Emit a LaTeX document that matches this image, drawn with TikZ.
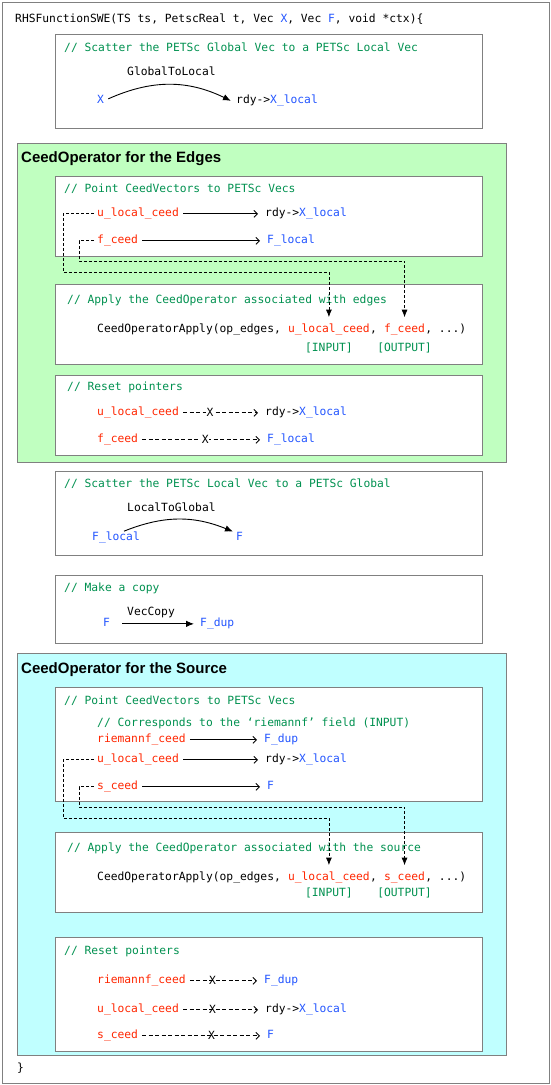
\documentclass[tikz,border=0pt]{standalone}
\usepackage{fontspec}
\usepackage{xcolor}
\usetikzlibrary{arrows.meta, positioning, calc}
\newfontfamily\codefont{DejaVu Sans Mono}
\newfontfamily\headfont{Liberation Sans}
\definecolor{codered}{RGB}{255,38,0}
\definecolor{codeblue}{RGB}{35,85,255}
\definecolor{codegreen}{RGB}{0,145,80}
\definecolor{framegray}{RGB}{128,128,128}
\definecolor{edgefill}{RGB}{192,255,192}
\definecolor{srcfill}{RGB}{192,255,255}
\tikzset{
  code/.style={anchor=base west,inner sep=0pt,font=\codefont\fontsize{11.3}{13}\selectfont},
  cmt/.style={code,text=codegreen},
  var/.style={code,text=codered},
  vec/.style={code,text=codeblue},
  panel/.style={draw=framegray,fill=white,line width=0.9pt},
  edgegroup/.style={draw=framegray,fill=edgefill,line width=0.9pt},
  srcgroup/.style={draw=framegray,fill=srcfill,line width=0.9pt},
  grouptitle/.style={anchor=base west,inner sep=0pt,font=\headfont\bfseries\fontsize{15}{18}\selectfont},
  ptr/.style={-{Straight Barb[length=3.5pt,width=7pt]},line width=0.9pt,shorten <=4pt,shorten >=7pt},
  unptr/.style={ptr,dash pattern=on 4pt off 2.5pt},
  scatter/.style={-{Latex[length=8pt,width=6.5pt]},line width=0.9pt},
  argline/.style={-{Latex[length=7.5pt,width=6pt]},line width=0.8pt,dash pattern=on 3pt off 2pt,
    shorten <=3pt,shorten >=6pt},
  cutx/.style={code,anchor=center,pos=#1,fill=white,inner xsep=0.6pt,inner ysep=1pt},
  crossx/.style={cutx=#1,fill=none}
}

\begin{document}
\begin{tikzpicture}[x=1pt,y=-1pt]
  \useasboundingbox (0,0) rectangle (551,1085);
  \draw[framegray,line width=0.9pt,fill=white] (2,2) rectangle (549,1083);
  \node[code] (sig) at (15,22)
    {RHSFunctionSWE(TS ts, PetscReal t, Vec \textcolor{codeblue}{X}, Vec \textcolor{codeblue}{F}, void *ctx)\{};

  % global to local
  \draw[panel] (55,34) rectangle (482,128);
  \node[cmt] (c1) at (64,51) {// Scatter the PETSc Global Vec to a PETSc Local Vec};
  \node[code] (g2l) at (127,75) {GlobalToLocal};
  \node[vec] (gx) at (97,103) {X};
  \node[code] (gxl) at (236,103) {rdy->\textcolor{codeblue}{X\_local}};
  \draw[scatter] ([xshift=4pt]gx.east) to[bend left=25] ([xshift=-5pt]gxl.mid west);

  % edges
  \draw[edgegroup] (17,143) rectangle (506,462);
  \node[grouptitle] (edgetitle) at (21,162) {CeedOperator for the Edges};

  \draw[panel] (55,176) rectangle (482,256);
  \node[cmt] (c2) at (64,192) {// Point CeedVectors to PETSc Vecs};
  \node[var] (eu) at (97,216) {u\_local\_ceed};
  \node[code] (exl) at (265,216) {rdy->\textcolor{codeblue}{X\_local}};
  \node[var] (ef) at (97,243) {f\_ceed};
  \node[vec] (efl) at (267,243) {F\_local};
  \draw[ptr] (eu.mid east) -- (exl.mid west);
  \draw[ptr] (ef.mid east) -- (efl.mid west);

  \draw[panel] (55,284) rectangle (482,364);
  \node[cmt] (c3) at (67,303) {// Apply the CeedOperator associated with edges};
  \node[code] (eapp) at (97,332) {CeedOperatorApply(op\_edges,\ \null};
  \node[var] (ein) at (eapp.base east) {u\_local\_ceed};
  \node[code] (ecomma) at (ein.base east) {,\ \null};
  \node[var] (eout) at (ecomma.base east) {f\_ceed};
  \node[code] (eend) at (eout.base east) {, ...)};
  \node[cmt,anchor=base] (einlbl) at ([yshift=-19pt]ein.base) {[INPUT]};
  \node[cmt,anchor=base] (eoutlbl) at ([yshift=-19pt]eout.base) {[OUTPUT]};
  \draw[argline] (eu.mid west) -| (63,272) -| (ein.north);
  \draw[argline] (ef.mid west) -| (79,261) -| (eout.north);

  \draw[panel] (55,375) rectangle (482,455);
  \node[cmt] (c4) at (67,390) {// Reset pointers};
  \node[var] (ru) at (97,415) {u\_local\_ceed};
  \node[code] (rxl) at (265,415) {rdy->\textcolor{codeblue}{X\_local}};
  \node[var] (rf) at (97,442) {f\_ceed};
  \node[vec] (rfl) at (267,442) {F\_local};
  \draw[unptr] (ru.mid east) -- node[cutx=0.36] (rux) {X} (rxl.mid west);
  \draw[unptr] (rf.mid east) -- node[cutx=0.52] (rfx) {X} (rfl.mid west);

  % local to global
  \draw[panel] (55,471) rectangle (482,555);
  \node[cmt] (c5) at (64,487) {// Scatter the PETSc Local Vec to a PETSc Global};
  \node[code] (l2g) at (127,511) {LocalToGlobal};
  \node[vec] (fl) at (92,540) {F\_local};
  \node[vec] (fg) at (236,540) {F};
  \draw[scatter] ([xshift=8pt]fl.north) to[bend left=22] ([xshift=-3pt]fg.north west);

  % copy
  \draw[panel] (55,575) rectangle (482,643);
  \node[cmt] (c6) at (64,591) {// Make a copy};
  \node[code] (vcopy) at (127,615) {VecCopy};
  \node[vec] (cf) at (103,626) {F};
  \node[vec] (cfd) at (200,626) {F\_dup};
  \draw[scatter,shorten <=12pt,shorten >=6pt] (cf.mid east) -- (cfd.mid west);

  % source
  \draw[srcgroup] (17,653) rectangle (506,1055);
  \node[grouptitle] (srctitle) at (21,673) {CeedOperator for the Source};

  \draw[panel] (55,687) rectangle (482,801);
  \node[cmt] (c7) at (64,704) {// Point CeedVectors to PETSc Vecs};
  \node[cmt] (c7b) at (97,726) {// Corresponds to the ‘riemannf’ field (INPUT)};
  \node[var] (sr) at (97,742) {riemannf\_ceed};
  \node[vec] (srd) at (264,742) {F\_dup};
  \node[var] (su) at (97,762) {u\_local\_ceed};
  \node[code] (sxl) at (265,762) {rdy->\textcolor{codeblue}{X\_local}};
  \node[var] (ss) at (97,789) {s\_ceed};
  \node[vec] (sf) at (267,789) {F};
  \draw[ptr] (sr.mid east) -- (srd.mid west);
  \draw[ptr] (su.mid east) -- (sxl.mid west);
  \draw[ptr] (ss.mid east) -- (sf.mid west);

  \draw[panel] (55,832) rectangle (482,912);
  \node[cmt] (c8) at (67,851) {// Apply the CeedOperator associated with the source};
  \node[code] (sapp) at (97,880) {CeedOperatorApply(op\_edges,\ \null};
  \node[var] (sin) at (sapp.base east) {u\_local\_ceed};
  \node[code] (scomma) at (sin.base east) {,\ \null};
  \node[var] (sout) at (scomma.base east) {s\_ceed};
  \node[code] (send) at (sout.base east) {, ...)};
  \node[cmt,anchor=base] (sinlbl) at ([yshift=-16pt]sin.base) {[INPUT]};
  \node[cmt,anchor=base] (soutlbl) at ([yshift=-16pt]sout.base) {[OUTPUT]};
  \draw[argline] (su.mid west) -| (63,818) -| (sin.north);
  \draw[argline] (ss.mid west) -| (79,807) -| (sout.north);

  \draw[panel] (55,937) rectangle (482,1051);
  \node[cmt] (c9) at (64,954) {// Reset pointers};
  \node[var] (tr) at (97,983) {riemannf\_ceed};
  \node[vec] (trd) at (264,983) {F\_dup};
  \node[var] (tu) at (97,1012) {u\_local\_ceed};
  \node[code] (txl) at (265,1012) {rdy->\textcolor{codeblue}{X\_local}};
  \node[var] (ts) at (97,1038) {s\_ceed};
  \node[vec] (tf) at (267,1038) {F};
  \draw[unptr] (tr.mid east) -- node[crossx=0.34] (trx) {X} (trd.mid west);
  \draw[unptr] (tu.mid east) -- node[crossx=0.39] (tux) {X} (txl.mid west);
  \draw[unptr] (ts.mid east) -- node[crossx=0.57] (tsx) {X} (tf.mid west);

  \node[code] (close) at (17,1071) {\}};
\end{tikzpicture}
\end{document}
